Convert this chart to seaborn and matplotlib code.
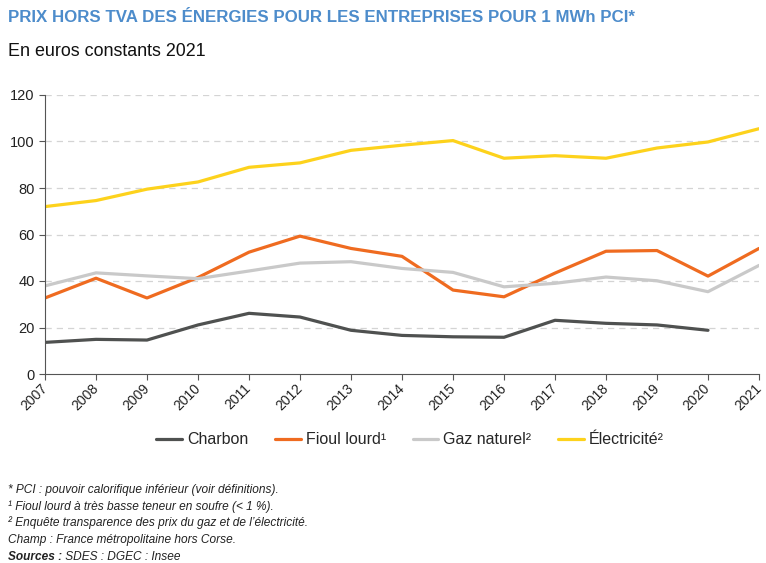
import matplotlib
matplotlib.use("Agg")
import matplotlib.pyplot as plt
import seaborn as sns
import pandas as pd
import numpy as np

years = list(range(2007, 2022))
charbon = [13.6, 14.9, 14.6, 21.1, 26.1, 24.5, 18.8, 16.6, 16.0, 15.8, 23.1, 21.8, 21.1, 18.8, np.nan]
fioul = [32.7, 41.2, 32.7, 41.5, 52.4, 59.3, 54.0, 50.6, 36.1, 33.2, 43.4, 52.8, 53.1, 42.1, 54.0]
gaz = [37.9, 43.5, 42.2, 41.0, 44.3, 47.7, 48.3, 45.4, 43.7, 37.5, 39.0, 41.7, 40.1, 35.4, 46.7]
elec = [72.0, 74.6, 79.5, 82.6, 88.9, 90.8, 96.2, 98.4, 100.4, 92.8, 93.9, 92.8, 97.2, 99.8, 105.5]

series_names = ["Charbon", "Fioul lourd\u00b9", "Gaz naturel\u00b2", "\u00c9lectricit\u00e9\u00b2"]
colors = ["#4f5150", "#ef6b20", "#c9c9c9", "#fdd21c"]

df = pd.DataFrame({"year": years, series_names[0]: charbon, series_names[1]: fioul,
                   series_names[2]: gaz, series_names[3]: elec})
long_df = df.melt(id_vars="year", var_name="energie", value_name="prix")

sns.set_theme(style="white")
plt.rcParams['font.family'] = ['Liberation Sans', 'DejaVu Sans']

fig = plt.figure(figsize=(7.66, 5.63), dpi=100)
ax = fig.add_axes([45 / 766, 1 - 374 / 563, (759 - 45) / 766, (374 - 95) / 563])

sns.lineplot(data=long_df, x="year", y="prix", hue="energie", hue_order=series_names,
             palette=dict(zip(series_names, colors)), linewidth=2.3, ax=ax, legend=False)

ax.set_xlim(2007, 2021)
ax.set_ylim(0, 120)
ax.set_yticks(range(0, 121, 20))
ax.set_xticks(years)
ax.set_xticklabels([str(y) for y in years], rotation=45, ha="right", va="center",
                   rotation_mode="anchor", fontsize=10, color="#222222")
ax.tick_params(axis="x", pad=5)
ax.tick_params(axis="y", labelsize=10.5, colors="#222222")
ax.tick_params(axis="both", direction="out", length=4, width=0.8, color="#555555", bottom=True, left=True)
ax.set_xlabel("")
ax.set_ylabel("")
for side in ["top", "right"]:
    ax.spines[side].set_visible(False)
for side in ["left", "bottom"]:
    ax.spines[side].set_color("#555555")
    ax.spines[side].set_linewidth(0.8)
for v in range(20, 121, 20):
    ax.axhline(v, color="#d4d4d4", linestyle=(0, (5, 4)), linewidth=0.9, zorder=0)

handles = [plt.Line2D([], [], color=c, linewidth=2.3) for c in colors]
fig.legend(handles, series_names, loc="center", bbox_to_anchor=(410 / 766, 1 - 440 / 563),
           ncol=4, frameon=False, fontsize=11.5, handlelength=1.6, handletextpad=0.3,
           columnspacing=1.7)

fig.text(8 / 766, 1 - 18 / 563, "PRIX HORS TVA DES \u00c9NERGIES POUR LES ENTREPRISES POUR 1 MWh PCI*",
         fontsize=12.2, fontweight="bold", color="#4d8ccb", va="center", ha="left")
fig.text(8 / 766, 1 - 52 / 563, "En euros constants 2021", fontsize=12.9, color="#111111",
         va="center", ha="left")

notes = [
    "* PCI : pouvoir calorifique inf\u00e9rieur (voir d\u00e9finitions).",
    "\u00b9 Fioul lourd \u00e0 tr\u00e8s basse teneur en soufre (< 1 %).",
    "\u00b2 Enqu\u00eate transparence des prix du gaz et de l\u2019\u00e9lectricit\u00e9.",
    "Champ : France m\u00e9tropolitaine hors Corse.",
]
note_y = [490, 507, 523, 540]
for txt, y in zip(notes, note_y):
    fig.text(8 / 766, 1 - y / 563, txt, fontsize=8.6, style="italic", color="#222222",
             va="center", ha="left")
src = fig.text(8 / 766, 1 - 557 / 563, "Sources :", fontsize=8.6, style="italic",
               fontweight="bold", color="#222222", va="center", ha="left")
ax.annotate(" SDES : DGEC : Insee", xy=(1, 0.5), xycoords=src, fontsize=8.6, style="italic",
            color="#222222", va="center", ha="left", annotation_clip=False)

fig.savefig("out.png", dpi=100)
